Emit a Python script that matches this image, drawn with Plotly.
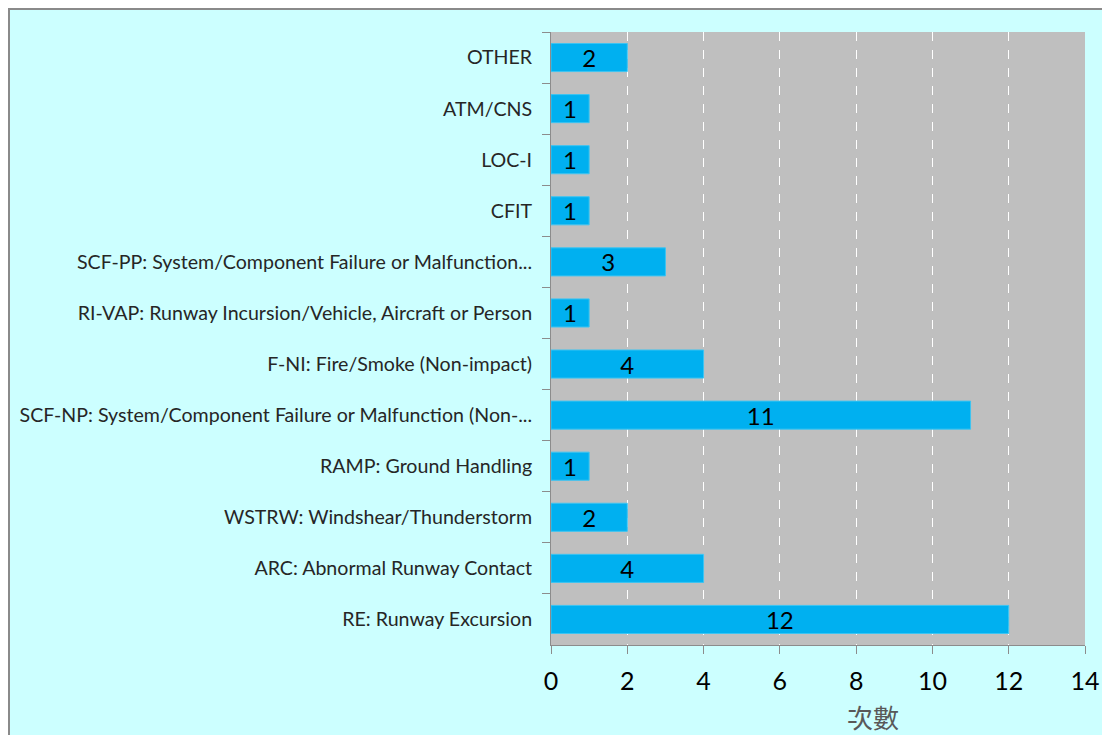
import plotly.graph_objects as go

categories = [
    "OTHER",
    "ATM/CNS",
    "LOC-I",
    "CFIT",
    "SCF-PP: System/Component Failure or Malfunction...",
    "RI-VAP: Runway Incursion/Vehicle, Aircraft or Person",
    "F-NI: Fire/Smoke (Non-impact)",
    "SCF-NP: System/Component Failure or Malfunction (Non-...",
    "RAMP: Ground Handling",
    "WSTRW: Windshear/Thunderstorm",
    "ARC: Abnormal Runway Contact",
    "RE: Runway Excursion",
]
counts = [2, 1, 1, 1, 3, 1, 4, 11, 1, 2, 4, 12]
x_ticks = [0, 2, 4, 6, 8, 10, 12, 14]
x_title = "次數"

# figure is placed by the page 8px from the top-left corner
W, H = 1102, 727
ML, MR, MT, MB = 543, 25, 24, 90
pw, ph = W - ML - MR, H - MT - MB


def px_x(p):
    return (p - ML) / pw


def px_y(p):
    return (H - MB - p) / ph


fig = go.Figure(
    go.Bar(
        x=counts,
        y=categories,
        orientation="h",
        marker=dict(color="#00b0f0", line=dict(color="#3cc4f2", width=1)),
        text=[str(v) for v in counts],
        textposition="inside",
        insidetextanchor="middle",
        textangle=0,
        constraintext="none",
        textfont=dict(family="Lato, Liberation Sans, sans-serif", size=24, color="#000000"),
        hoverinfo="x+y",
    )
)

fig.update_layout(
    width=W,
    height=H,
    autosize=False,
    margin=dict(l=ML, r=MR, t=MT, b=MB, pad=0, autoexpand=False),
    paper_bgcolor="#ccffff",
    plot_bgcolor="#bfbfbf",
    bargap=0.45,
    showlegend=False,
    font=dict(family="Lato, Liberation Sans, sans-serif", color="#262626"),
    xaxis=dict(
        range=[0, 14],
        tickvals=x_ticks,
        ticktext=[str(t) for t in x_ticks],
        showgrid=True,
        gridcolor="#ffffff",
        griddash="dash",
        gridwidth=1,
        zeroline=False,
        showline=True,
        linecolor="#8c8c8c",
        linewidth=1,
        ticks="outside",
        ticklen=8,
        tickcolor="#8c8c8c",
        tickfont=dict(size=25, color="#000000"),
        ticklabelstandoff=6,
        automargin=False,
        fixedrange=True,
    ),
    yaxis=dict(
        type="category",
        autorange="reversed",
        showgrid=False,
        zeroline=False,
        showline=True,
        linecolor="#8c8c8c",
        linewidth=1,
        ticks="outside",
        tickson="boundaries",
        ticklen=8,
        tickcolor="#8c8c8c",
        tickfont=dict(size=19.6, color="#262626"),
        ticklabelstandoff=14,
        automargin=False,
        fixedrange=True,
    ),
    annotations=[
        dict(
            text=x_title,
            xref="paper",
            yref="paper",
            x=px_x(865),
            y=px_y(709),
            xanchor="center",
            yanchor="middle",
            showarrow=False,
            font=dict(family="Noto Sans CJK TC", size=26, color="#595959"),
        )
    ],
    shapes=[
        # chart frame (top and left edges)
        dict(type="line", xref="paper", yref="paper",
             x0=px_x(0), x1=px_x(W + 5), y0=px_y(1), y1=px_y(1),
             line=dict(color="#8a8a8a", width=2), layer="above"),
        dict(type="line", xref="paper", yref="paper",
             x0=px_x(1), x1=px_x(1), y0=px_y(0), y1=px_y(H + 5),
             line=dict(color="#8a8a8a", width=2), layer="above"),
    ],
)

fig.write_html("out.html")
